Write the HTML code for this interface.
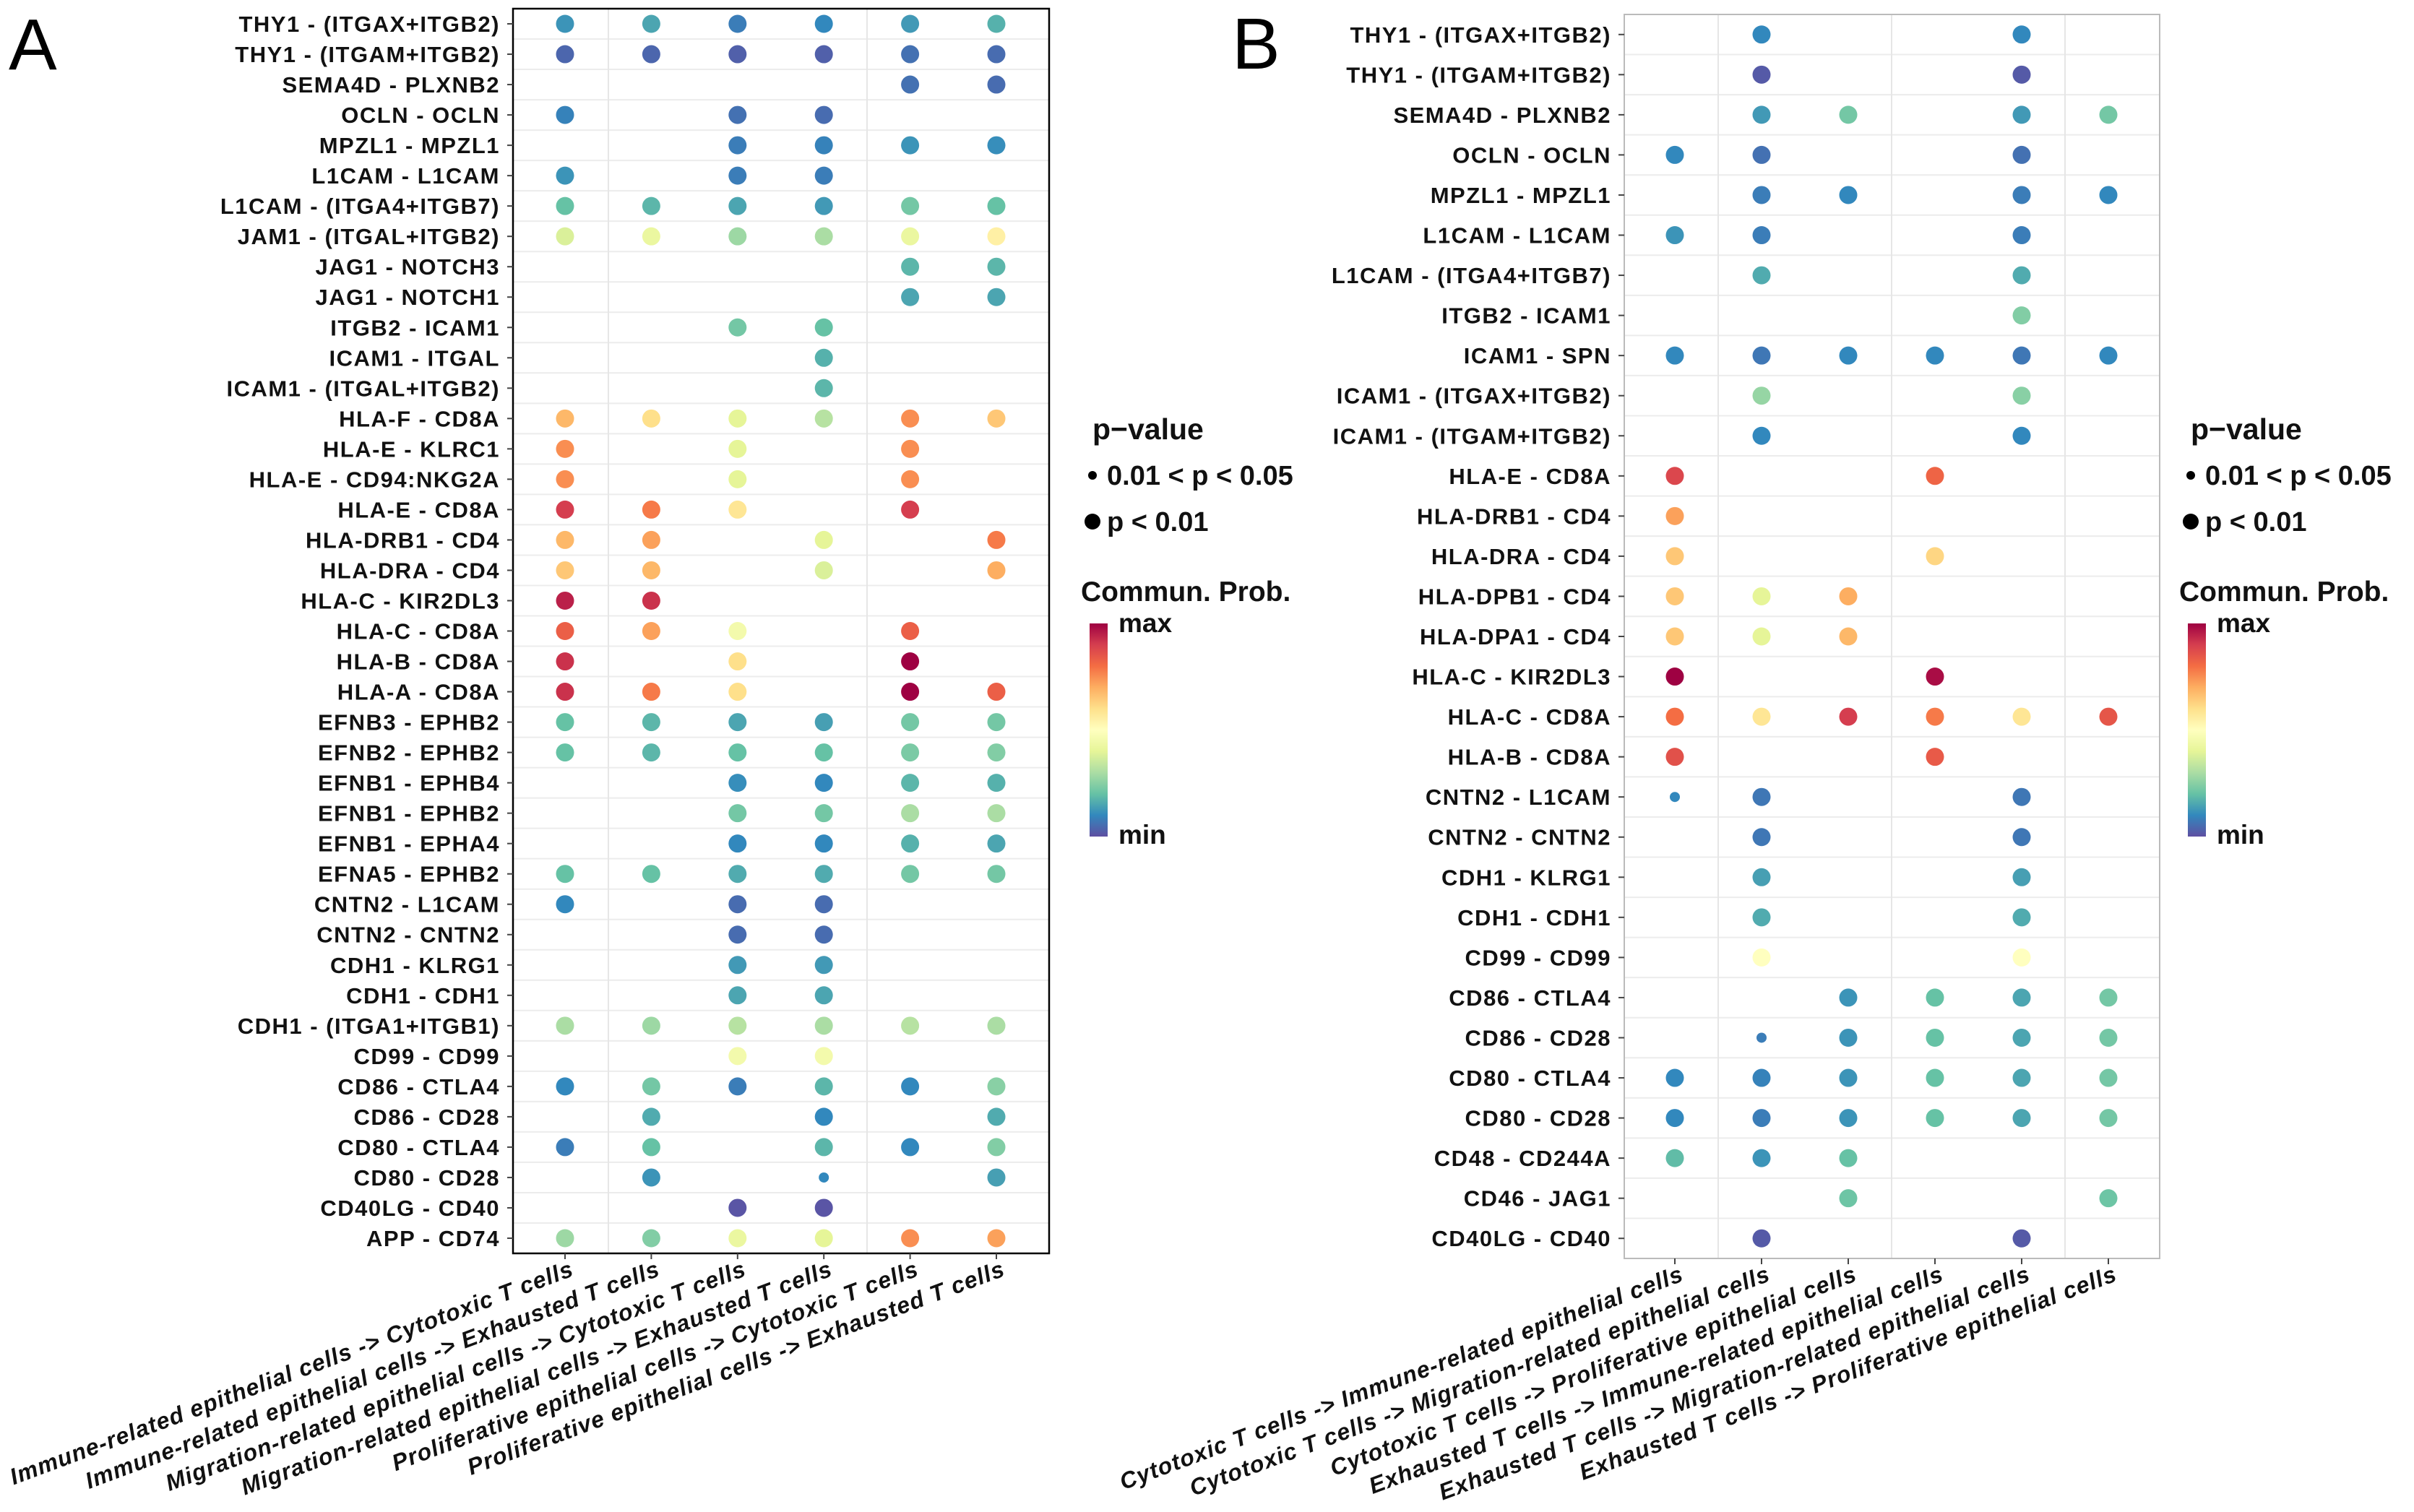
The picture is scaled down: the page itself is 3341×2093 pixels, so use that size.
<!DOCTYPE html>
<html><head><meta charset="utf-8">
<style>
html,body{margin:0;padding:0;background:#fff;}
svg{display:block;font-family:"Liberation Sans",Arial,sans-serif;}
</style></head>
<body>
<svg id="fig" width="3341" height="2093" viewBox="0 0 3341 2093" xmlns="http://www.w3.org/2000/svg">
<rect x="0" y="0" width="3341" height="2093" fill="#fff"/>
</svg>
<script>
// ---------- Panel A data ----------
const rowsA = ["THY1 - (ITGAX+ITGB2)","THY1 - (ITGAM+ITGB2)","SEMA4D - PLXNB2","OCLN - OCLN","MPZL1 - MPZL1","L1CAM - L1CAM","L1CAM - (ITGA4+ITGB7)","JAM1 - (ITGAL+ITGB2)","JAG1 - NOTCH3","JAG1 - NOTCH1","ITGB2 - ICAM1","ICAM1 - ITGAL","ICAM1 - (ITGAL+ITGB2)","HLA-F - CD8A","HLA-E - KLRC1","HLA-E - CD94:NKG2A","HLA-E - CD8A","HLA-DRB1 - CD4","HLA-DRA - CD4","HLA-C - KIR2DL3","HLA-C - CD8A","HLA-B - CD8A","HLA-A - CD8A","EFNB3 - EPHB2","EFNB2 - EPHB2","EFNB1 - EPHB4","EFNB1 - EPHB2","EFNB1 - EPHA4","EFNA5 - EPHB2","CNTN2 - L1CAM","CNTN2 - CNTN2","CDH1 - KLRG1","CDH1 - CDH1","CDH1 - (ITGA1+ITGB1)","CD99 - CD99","CD86 - CTLA4","CD86 - CD28","CD80 - CTLA4","CD80 - CD28","CD40LG - CD40","APP - CD74"];
const colsA = ["Immune-related epithelial cells -> Cytotoxic T cells","Immune-related epithelial cells -> Exhausted T cells","Migration-related epithelial cells -> Cytotoxic T cells","Migration-related epithelial cells -> Exhausted T cells","Proliferative epithelial cells -> Cytotoxic T cells","Proliferative epithelial cells -> Exhausted T cells"];
const n = null;
const probA = [
[0.12,0.15,0.08,0.10,0.13,0.17],
[0.04,0.04,0.03,0.03,0.06,0.05],
[n,n,n,n,0.06,0.05],
[0.09,n,0.06,0.05,n,n],
[n,n,0.08,0.09,0.12,0.11],
[0.12,n,0.08,0.08,n,n],
[0.20,0.18,0.15,0.13,0.22,0.20],
[0.38,0.42,0.28,0.30,0.42,0.55],
[n,n,n,n,0.18,0.18],
[n,n,n,n,0.15,0.15],
[n,n,0.22,0.20,n,n],
[n,n,n,0.17,n,n],
[n,n,n,0.18,n,n],
[0.68,0.60,0.40,0.32,0.75,0.65],
[0.75,n,0.40,n,0.75,n],
[0.75,n,0.40,n,0.75,n],
[0.90,0.78,0.58,n,0.90,n],
[0.68,0.72,n,0.40,n,0.78],
[0.65,0.68,n,0.38,n,0.70],
[0.95,0.92,n,n,n,n],
[0.83,0.72,0.45,n,0.83,n],
[0.92,n,0.60,n,1.00,n],
[0.92,0.78,0.60,n,1.00,0.83],
[0.20,0.18,0.15,0.14,0.22,0.22],
[0.20,0.18,0.20,0.20,0.23,0.24],
[n,n,0.11,0.10,0.18,0.17],
[n,n,0.22,0.22,0.30,0.30],
[n,n,0.10,0.10,0.17,0.15],
[0.20,0.20,0.16,0.16,0.22,0.22],
[0.10,n,0.05,0.05,n,n],
[n,n,0.05,0.05,n,n],
[n,n,0.13,0.13,n,n],
[n,n,0.15,0.15,n,n],
[0.30,0.28,0.32,0.30,0.32,0.30],
[n,n,0.45,0.45,n,n],
[0.10,0.22,0.08,0.18,0.10,0.25],
[n,0.16,n,0.10,n,0.16],
[0.08,0.20,n,0.18,0.10,0.24],
[n,0.12,n,0.10,n,0.14],
[n,n,0.01,0.01,n,n],
[0.28,0.24,0.42,0.40,0.75,0.72]
];
const smallA = [[38,3]];

// ---------- Panel B data ----------
const rowsB = ["THY1 - (ITGAX+ITGB2)","THY1 - (ITGAM+ITGB2)","SEMA4D - PLXNB2","OCLN - OCLN","MPZL1 - MPZL1","L1CAM - L1CAM","L1CAM - (ITGA4+ITGB7)","ITGB2 - ICAM1","ICAM1 - SPN","ICAM1 - (ITGAX+ITGB2)","ICAM1 - (ITGAM+ITGB2)","HLA-E - CD8A","HLA-DRB1 - CD4","HLA-DRA - CD4","HLA-DPB1 - CD4","HLA-DPA1 - CD4","HLA-C - KIR2DL3","HLA-C - CD8A","HLA-B - CD8A","CNTN2 - L1CAM","CNTN2 - CNTN2","CDH1 - KLRG1","CDH1 - CDH1","CD99 - CD99","CD86 - CTLA4","CD86 - CD28","CD80 - CTLA4","CD80 - CD28","CD48 - CD244A","CD46 - JAG1","CD40LG - CD40"];
const colsB = ["Cytotoxic T cells -> Immune-related epithelial cells","Cytotoxic T cells -> Migration-related epithelial cells","Cytotoxic T cells -> Proliferative epithelial cells","Exhausted T cells -> Immune-related epithelial cells","Exhausted T cells -> Migration-related epithelial cells","Exhausted T cells -> Proliferative epithelial cells"];
const probB = [
[n,0.10,n,n,0.10,n],
[n,0.02,n,n,0.02,n],
[n,0.13,0.22,n,0.13,0.22],
[0.10,0.06,n,n,0.06,n],
[n,0.08,0.10,n,0.08,0.10],
[0.12,0.08,n,n,0.08,n],
[n,0.16,n,n,0.16,n],
[n,n,n,n,0.24,n],
[0.10,0.07,0.10,0.10,0.07,0.10],
[n,0.27,n,n,0.25,n],
[n,0.10,n,n,0.10,n],
[0.88,n,n,0.82,n,n],
[0.72,n,n,n,n,n],
[0.65,n,n,0.62,n,n],
[0.65,0.40,0.70,n,n,n],
[0.65,0.40,0.68,n,n,n],
[1.00,n,n,0.98,n,n],
[0.80,0.58,0.90,0.78,0.58,0.85],
[0.86,n,n,0.84,n,n],
[0.10,0.07,n,n,0.07,n],
[n,0.07,n,n,0.07,n],
[n,0.14,n,n,0.14,n],
[n,0.16,n,n,0.16,n],
[n,0.50,n,n,0.50,n],
[n,n,0.12,0.20,0.15,0.22],
[n,0.08,0.12,0.20,0.15,0.22],
[0.10,0.09,0.12,0.20,0.15,0.22],
[0.10,0.08,0.12,0.20,0.15,0.22],
[0.19,0.12,0.20,n,n,n],
[n,n,0.21,n,n,0.21],
[n,0.02,n,n,0.02,n]
];
const smallB = [[19,0],[25,1]];

const legendP = ["0.01 < p < 0.05","p < 0.01"];

// ---------- helpers ----------
const NS = "http://www.w3.org/2000/svg";
const svg = document.getElementById("fig");
function mk(tag, attrs, parent){
  const e = document.createElementNS(NS, tag);
  for (const k in attrs) e.setAttribute(k, attrs[k]);
  (parent||svg).appendChild(e);
  return e;
}
const spectral = ["#5E4FA2","#3288BD","#66C2A5","#ABDDA4","#E6F598","#FFFFBF","#FEE08B","#FDAE61","#F46D43","#D53E4F","#9E0142"];
function hex2rgb(h){return [parseInt(h.slice(1,3),16),parseInt(h.slice(3,5),16),parseInt(h.slice(5,7),16)];}
function colorOf(v){
  v=Math.max(0,Math.min(1,v));
  const p=v*10, i=Math.min(9,Math.floor(p)), t=p-i;
  const a=hex2rgb(spectral[i]), b=hex2rgb(spectral[i+1]);
  return "rgb("+a.map((x,j)=>Math.round(x+(b[j]-x)*t)).join(",")+")";
}

function panel(cfg){
  const {rows, cols, prob, small, left, right, top, bottom, x0, dx, letter, letterX, letterY, border, vlines, legX, id} = cfg;
  const g = mk("g",{});
  
  
  const nr = rows.length;
  const rowH = (bottom-top)/nr;
  const yOf = i => top + rowH*(i+0.5);
  const xOf = j => x0 + dx*j;
  for (let i=1;i<nr;i++){
    const ln = mk("line",{x1:left,x2:right,y1:top+rowH*i,y2:top+rowH*i,stroke:"#ececec","stroke-width":2},g);
    
    
  }
  vlines.forEach(vx=>{
    const ln = mk("line",{x1:vx,x2:vx,y1:top,y2:bottom,stroke:"#e6e6e6","stroke-width":2},g);
    
    
  });
  const box = mk("rect",{x:left,y:top,width:right-left,height:bottom-top,fill:"none",stroke:border,"stroke-width":border==="#000"?2.5:2},g);
  
  
  rows.forEach((r,i)=>{
    const t = mk("text",{x:left-18,y:yOf(i)+11,"text-anchor":"end","font-size":31,"font-weight":"bold","letter-spacing":1.5,fill:"#111"},g);
    t.textContent = r;
    
    
    const tk = mk("line",{x1:left-8,x2:left,y1:yOf(i),y2:yOf(i),stroke:"#444","stroke-width":2},g);
    
    
  });
  cols.forEach((c,j)=>{
    const tk = mk("line",{x1:xOf(j),x2:xOf(j),y1:bottom,y2:bottom+8,stroke:"#444","stroke-width":2},g);
    
    
    const ax = xOf(j)+14, ay = bottom+30;
    const t = mk("text",{x:ax,y:ay,"text-anchor":"end","font-size":32,"font-style":"italic","font-weight":"bold","letter-spacing":1.2,fill:"#111",transform:"rotate(-20.5 "+ax+" "+ay+")"},g);
    t.textContent = c;
    
    
  });
  prob.forEach((row,i)=>row.forEach((v,j)=>{
    if (v===null) return;
    const isSmall = small.some(s=>s[0]===i&&s[1]===j);
    const c = mk("circle",{cx:xOf(j),cy:yOf(i),r:isSmall?7:12.5,fill:colorOf(v)},g);
    
    
  }));
  const L = mk("text",{x:letterX,y:letterY,"font-size":100,fill:"#000"},g);
  L.textContent = letter;
  
  
  const lt = mk("text",{x:legX,y:608,"font-size":41,"font-weight":"bold",fill:"#111"},g);
  lt.textContent = "p\u2212value";
  
  
  legendP.forEach((lab,k)=>{
    const cy = k===0?658:722;
    const d = mk("circle",{cx:legX,cy:cy,r:k===0?6:11,fill:"#000"},g);
    
    
    const t = mk("text",{x:legX+20,y:cy+13,"font-size":38,"font-weight":"bold",fill:"#111"},g);
    t.textContent = lab;
    
    
  });
  const ct = mk("text",{x:legX-16,y:832,"font-size":39,"font-weight":"bold",fill:"#111"},g);
  ct.textContent = "Commun. Prob.";
  
  
  const defs = mk("defs",{},g);
  const gr = mk("linearGradient",{id:"grad"+id,x1:0,y1:1,x2:0,y2:0},defs);
  spectral.forEach((s,k)=>mk("stop",{offset:(k/10),"stop-color":s},gr));
  const bar = mk("rect",{x:legX-4,y:863,width:25,height:295,fill:"url(#grad"+id+")"},g);
  
  
  const mx = mk("text",{x:legX+36,y:875,"font-size":37,"font-weight":"bold",fill:"#111"},g);
  mx.textContent = "max";
  
  
  const mn = mk("text",{x:legX+36,y:1168,"font-size":37,"font-weight":"bold",fill:"#111"},g);
  mn.textContent = "min";
  
  
}

panel({rows:rowsA, cols:colsA, prob:probA, small:smallA, left:710, right:1452, top:12, bottom:1735,
  x0:782, dx:119.4, letter:"A", letterX:12, letterY:96, border:"#000", vlines:[842,1200], legX:1512, id:"a"});
panel({rows:rowsB, cols:colsB, prob:probB, small:smallB, left:2248, right:2989, top:20, bottom:1742,
  x0:2318, dx:120, letter:"B", letterX:1705, letterY:95, border:"#bbb", vlines:[2378,2618,2858], legX:3032, id:"b"});
</script>
</body></html>
